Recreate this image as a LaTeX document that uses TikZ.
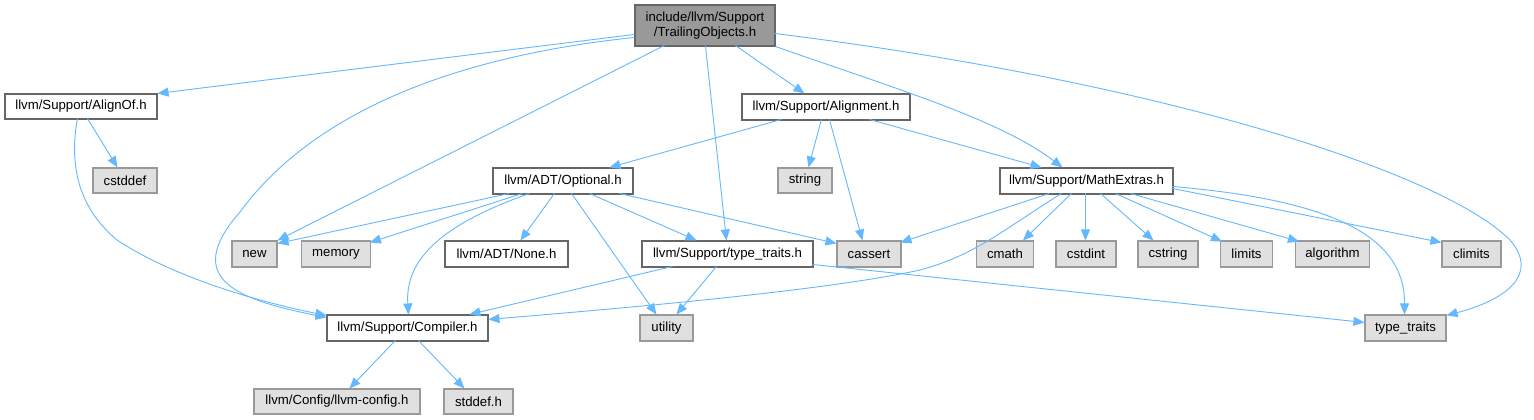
\documentclass[tikz,border=0pt]{standalone}
\usepackage{fontspec}
\setmainfont{Liberation Sans}
\usetikzlibrary{arrows.meta,calc}
\definecolor{edgec}{HTML}{63B8FF}
\definecolor{rootfill}{HTML}{999999}
\definecolor{darkb}{HTML}{666666}
\definecolor{grayfill}{HTML}{E0E0E0}
\definecolor{grayb}{HTML}{999999}
\begin{document}
\begin{tikzpicture}[x=1pt,y=-1pt,
  base/.style={rectangle, inner sep=0pt, line width=1.1pt, font=\fontsize{13.2}{15.5}\selectfont, align=center},
  rootbox/.style={base, draw=darkb, fill=rootfill},
  wbox/.style={base, draw=darkb, fill=white},
  gbox/.style={base, draw=grayb, fill=grayfill},
  edge/.style={draw=edgec, line width=0.9pt, -{Triangle[length=11pt,width=9pt]}, fill=none}
]
\useasboundingbox (0,0) rectangle (1534,420);
\fill[white] (0,0) rectangle (1534,420);

% nodes
\node[rootbox, minimum width=140pt, minimum height=41pt] (root) at (705,25.5) {include/llvm/Support\\/TrailingObjects.h};
\node[wbox, minimum width=152pt, minimum height=25pt] (alignof) at (81,106.5) {llvm/Support/AlignOf.h};
\node[gbox, minimum width=64pt, minimum height=25pt] (cstddef) at (125,180.5) {cstddef};
\node[wbox, minimum width=168pt, minimum height=26pt] (alignment) at (826,107) {llvm/Support/Alignment.h};
\node[wbox, minimum width=140pt, minimum height=26pt] (optional) at (563,181) {llvm/ADT/Optional.h};
\node[gbox, minimum width=54pt, minimum height=25pt] (string) at (805,180.5) {string};
\node[wbox, minimum width=173pt, minimum height=26pt] (mathextras) at (1086.5,181) {llvm/Support/MathExtras.h};
\node[gbox, minimum width=45pt, minimum height=26pt] (new) at (254.5,254) {new};
\node[gbox, minimum width=69pt, minimum height=26pt] (memory) at (336,254) {memory};
\node[wbox, minimum width=123pt, minimum height=26pt] (none) at (506.5,254) {llvm/ADT/None.h};
\node[wbox, minimum width=171pt, minimum height=26pt] (ttsupport) at (727.5,254) {llvm/Support/type\_traits.h};
\node[gbox, minimum width=64pt, minimum height=26pt] (cassert) at (869,254) {cassert};
\node[gbox, minimum width=57pt, minimum height=26pt] (cmath) at (1005,254) {cmath};
\node[gbox, minimum width=60pt, minimum height=26pt] (cstdint) at (1086,254) {cstdint};
\node[gbox, minimum width=60pt, minimum height=26pt] (cstring) at (1168,254) {cstring};
\node[gbox, minimum width=52pt, minimum height=26pt] (limits) at (1246.5,254) {limits};
\node[gbox, minimum width=74pt, minimum height=26pt] (algorithm) at (1332.5,254) {algorithm};
\node[gbox, minimum width=59pt, minimum height=26pt] (climits) at (1471.5,254) {climits};
\node[gbox, minimum width=81pt, minimum height=26pt] (typetraits) at (1405.5,328) {type\_traits};
\node[gbox, minimum width=53pt, minimum height=26pt] (utility) at (666.5,328) {utility};
\node[wbox, minimum width=161pt, minimum height=26pt] (compiler) at (407.5,328) {llvm/Support/Compiler.h};
\node[gbox, minimum width=166pt, minimum height=25pt] (llvmconfig) at (337,401.5) {llvm/Config/llvm-config.h};
\node[gbox, minimum width=69pt, minimum height=25pt] (stddef) at (478.5,401.5) {stddef.h};

% edges from root
\draw[edge] ($(root.north west)+(0,30)$) -- (alignof.north east);
\draw[edge] ($(root.north west)+(0,33)$) .. controls (420,60) and (300,130) .. (240,212) .. controls (180,280) and (240,300) .. ($(compiler.north west)+(0,3)$);
\draw[edge] ($(root.north west)+(30,41)$) -- (new.north east);
\draw[edge] ($(root.north west)+(71,41)$) -- ($(ttsupport.north west)+(85,0)$);
\draw[edge] ($(root.north west)+(101,41)$) -- ($(alignment.north west)+(63,0)$);
\draw[edge] (root.south east) .. controls (900,90) and (1000,120) .. ($(mathextras.north west)+(63,0)$);
\draw[edge] ($(root.north west)+(140,29)$) .. controls (1150,80) and (1440,170) .. (1510,240) .. controls (1540,275) and (1505,300) .. ($(typetraits.north east)+(0,1)$);

% AlignOf
\draw[edge] ($(alignof.north west)+(83,25)$) -- ($(cstddef.north west)+(25,0)$);
\draw[edge] ($(alignof.north west)+(73,25)$) .. controls (70,160) and (75,205) .. (117,240) .. controls (170,275) and (250,300) .. ($(compiler.north west)+(0,1)$);

% Alignment
\draw[edge] ($(alignment.north west)+(40,26)$) -- ($(optional.north west)+(117,0)$);
\draw[edge] ($(alignment.north west)+(80,26)$) -- ($(string.north west)+(31,0)$);
\draw[edge] ($(alignment.north west)+(88,26)$) -- ($(cassert.north west)+(26,0)$);
\draw[edge] ($(alignment.north west)+(128,26)$) -- ($(mathextras.north west)+(42,0)$);

% Optional
\draw[edge] ($(optional.north west)+(17,26)$) -- ($(new.north east)+(0,3)$);
\draw[edge] ($(optional.north west)+(30,26)$) -- ($(memory.north west)+(69,2)$);
\draw[edge] ($(optional.north west)+(37,26)$) .. controls (440,225) and (405,260) .. ($(compiler.north west)+(82,0)$);
\draw[edge] ($(optional.north west)+(62,26)$) -- ($(none.north west)+(76,0)$);
\draw[edge] ($(optional.north west)+(79,26)$) -- ($(utility.north west)+(17,0)$);
\draw[edge] ($(optional.north west)+(97,26)$) -- ($(ttsupport.north west)+(55,0)$);
\draw[edge] ($(optional.north west)+(127,26)$) -- ($(cassert.north west)+(0,3)$);

% type_traits.h (Support)
\draw[edge] ($(ttsupport.north west)+(31,26)$) -- ($(compiler.north west)+(143,0)$);
\draw[edge] ($(ttsupport.north west)+(75,26)$) -- ($(utility.north west)+(37,0)$);
\draw[edge] ($(ttsupport.north west)+(171,24)$) -- ($(typetraits.north west)+(0,8)$);

% MathExtras
\draw[edge] ($(mathextras.north west)+(50,26)$) -- ($(cassert.north west)+(64,2)$);
\draw[edge] ($(mathextras.north west)+(62,26)$) .. controls (1000,232) and (975,255) .. (920,270) .. controls (820,292) and (600,310) .. ($(compiler.north west)+(162,5)$);
\draw[edge] ($(mathextras.north west)+(72,26)$) -- ($(cmath.north west)+(47,0)$);
\draw[edge] ($(mathextras.north west)+(86,26)$) -- ($(cstdint.north west)+(30,0)$);
\draw[edge] ($(mathextras.north west)+(101,26)$) -- ($(cstring.north west)+(16,0)$);
\draw[edge] ($(mathextras.north west)+(116,26)$) -- ($(limits.north west)+(2,1)$);
\draw[edge] ($(mathextras.north west)+(131,26)$) -- ($(algorithm.north west)+(4,1)$);
\draw[edge] ($(mathextras.north west)+(173,21)$) -- ($(climits.north west)+(0,2)$);
\draw[edge] ($(mathextras.north west)+(173,19)$) .. controls (1330,200) and (1405,235) .. ($(typetraits.north west)+(40,0)$);

% Compiler
\draw[edge] ($(compiler.north west)+(69,26)$) -- ($(llvmconfig.north west)+(96,0)$);
\draw[edge] ($(compiler.north west)+(92,26)$) -- ($(stddef.north west)+(21,0)$);
\end{tikzpicture}
\end{document}
